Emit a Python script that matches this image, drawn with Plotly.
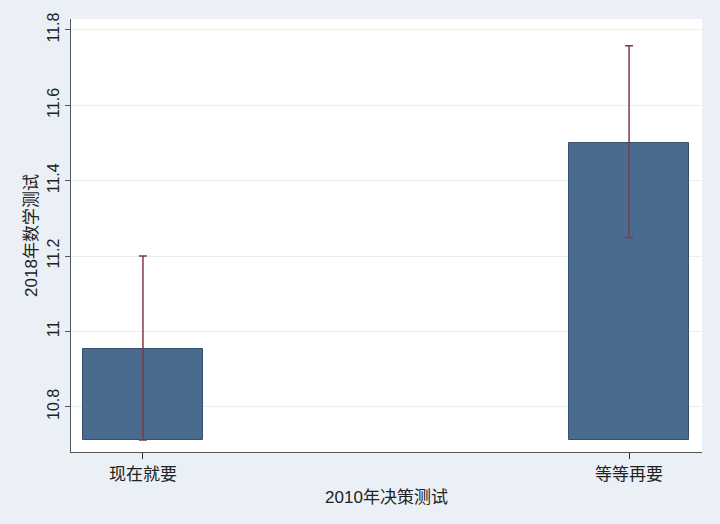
import plotly.graph_objects as go

# Data
groups = ['现在就要', '等等再要']
means = [10.954, 11.501]
ci_low = [10.712, 11.249]
ci_high = [11.200, 11.758]
bar_base = 10.712

font_family = 'Liberation Sans, Arial, Noto Sans CJK SC'

fig = go.Figure()
fig.add_trace(go.Bar(
    x=[0, 1],
    y=[m - bar_base for m in means],
    base=bar_base,
    width=0.248,
    marker=dict(color='#496b8d', line=dict(color='#34506d', width=1)),
    error_y=dict(
        type='data',
        symmetric=False,
        array=[h - m for h, m in zip(ci_high, means)],
        arrayminus=[m - l for m, l in zip(means, ci_low)],
        color='#803a4a',
        thickness=1.5,
        width=4,
    ),
    showlegend=False,
))

fig.update_layout(
    width=720, height=524,
    margin=dict(l=71, r=18, t=19, b=72),
    paper_bgcolor='#eaf0f5',
    plot_bgcolor='white',
    font=dict(family=font_family, size=17, color='#222222'),
    bargap=0,
)
fig.update_xaxes(
    range=[-0.148, 1.15],
    tickvals=[0, 1], ticktext=groups,
    tickfont=dict(size=17),
    ticks='outside', ticklen=6, tickcolor='#333333',
    showline=True, linecolor='#555555', linewidth=1.2,
    showgrid=False, zeroline=False,
    title=dict(text='2010年决策测试', standoff=8, font=dict(size=17)),
)
fig.update_yaxes(
    range=[10.68, 11.829],
    tickvals=[10.8, 11, 11.2, 11.4, 11.6, 11.8],
    ticktext=['10.8', '11', '11.2', '11.4', '11.6', '11.8'],
    tickangle=-90,
    tickfont=dict(size=16),
    ticks='outside', ticklen=5, tickcolor='#555555',
    showline=True, linecolor='#555555', linewidth=1.2,
    showgrid=True, gridcolor='#ebeef1', gridwidth=1,
    zeroline=False,
    title=dict(text='2018年数学测试', standoff=2, font=dict(size=17)),
)

fig.write_html('out.html', config={'displayModeBar': False},
               post_script="document.body.style.margin='0';")
